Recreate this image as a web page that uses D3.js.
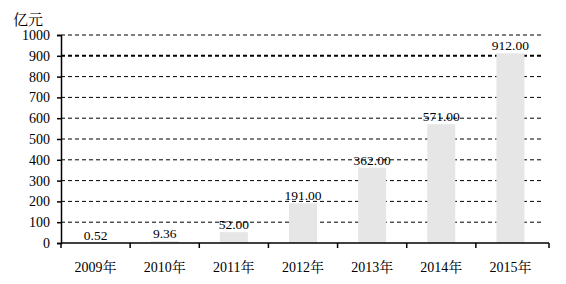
<!DOCTYPE html>
<html>
<head>
<meta charset="utf-8">
<script src="https://cdn.jsdelivr.net/npm/d3@7"></script>
<style>
  body { margin: 0; background: #fff; }
  svg text { font-family: "Liberation Serif", "Noto Serif CJK SC", serif; fill: #000; }
</style>
</head>
<body>
<div id="chart"></div>
<script>
// data
const years = ["2009年", "2010年", "2011年", "2012年", "2013年", "2014年", "2015年"]
const values = [0.52, 9.36, 52.00, 191.00, 362.00, 571.00, 912.00]
const yTicks = [0, 100, 200, 300, 400, 500, 600, 700, 800, 900, 1000]
const unit = "亿元"

const W = 566, H = 284
const margin = {top: 35, right: 21, bottom: 41, left: 61}
const width = W - margin.left - margin.right
const height = H - margin.top - margin.bottom
const serif = '"Liberation Serif", "Noto Serif CJK SC", serif'

const svg = d3.select("#chart").append("svg")
    .attr("width", W)
    .attr("height", H)

const g = svg.append("g")
    .attr("transform", "translate(" + margin.left + "," + margin.top + ")")

const x = d3.scaleBand()
    .domain(years)
    .range([0, width])

const y = d3.scaleLinear()
    .domain([0, 1000])
    .range([height, 0])

// dashed gridlines
g.selectAll(".grid").data(yTicks.filter(d => d > 0)).enter().append("line")
    .attr("x1", 0)
    .attr("x2", width - 4)
    .attr("y1", d => y(d))
    .attr("y2", d => y(d))
    .attr("stroke", "#000")
    .attr("stroke-width", d => d === 900 ? 2 : 1)
    .attr("stroke-dasharray", "4,3")

// bars
g.selectAll(".bar").data(values).enter().append("rect")
    .attr("x", (d, i) => x(years[i]) + x.bandwidth() / 2 - 14)
    .attr("width", 28)
    .attr("y", d => y(d))
    .attr("height", d => height - y(d))
    .attr("fill", "#e6e6e6")

// value labels
g.selectAll(".val").data(values).enter().append("text")
    .attr("x", (d, i) => x(years[i]) + x.bandwidth() / 2)
    .attr("y", d => y(d) - 3)
    .attr("text-anchor", "middle")
    .attr("font-family", serif)
    .style("font-size", "13.5px")
    .text(d => d.toFixed(2))

// y axis
const yAxis = d3.axisLeft(y).tickValues(yTicks).tickFormat(d3.format("d")).tickSize(4).tickPadding(7)
const ya = g.append("g").call(yAxis).attr("font-family", serif).attr("font-size", 14)
ya.select(".domain").attr("stroke", "#000").attr("stroke-width", 1.5)
ya.selectAll("line").attr("stroke", "#000").attr("stroke-width", 1.5)

// x axis with ticks on band boundaries
const xa = g.append("g").attr("transform", "translate(0," + height + ")")
xa.append("line").attr("x1", 0).attr("x2", width + 4).attr("stroke", "#000").attr("stroke-width", 1.5)
xa.selectAll(".tk").data(years.concat(["end"])).enter().append("line")
    .attr("x1", (d, i) => i < years.length ? x(d) : width + 4)
    .attr("x2", (d, i) => i < years.length ? x(d) : width + 4)
    .attr("y1", 0).attr("y2", 5)
    .attr("stroke", "#000").attr("stroke-width", 1.5)
xa.selectAll(".lbl").data(years).enter().append("text")
    .attr("x", d => x(d) + x.bandwidth() / 2)
    .attr("y", 29)
    .attr("text-anchor", "middle")
    .attr("font-family", serif)
    .style("font-size", "14px")
    .text(d => d)

// unit label
svg.append("text")
    .attr("x", 13)
    .attr("y", 25)
    .attr("font-family", serif)
    .style("font-size", "15px")
    .text(unit)
</script>
</body>
</html>
